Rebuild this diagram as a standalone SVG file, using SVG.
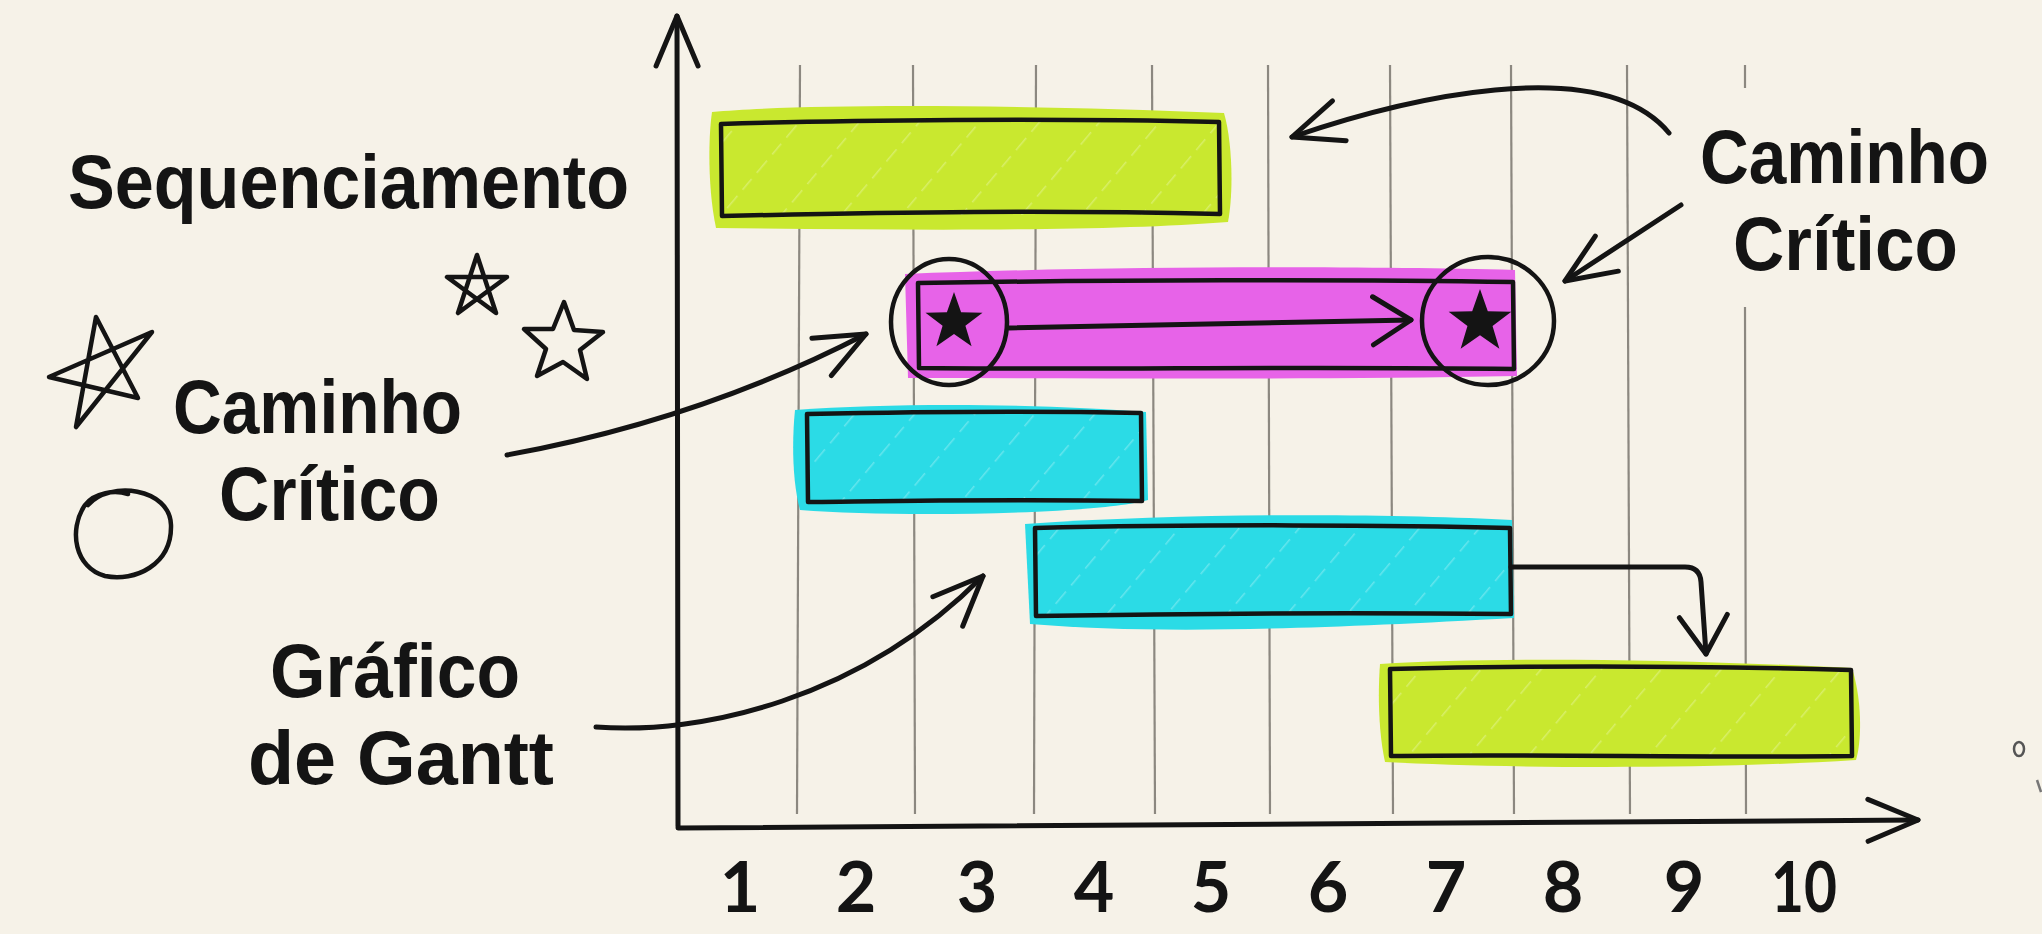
<svg xmlns="http://www.w3.org/2000/svg" width="2042" height="934" viewBox="0 0 2042 934">
<defs>
<style>
.lbl{font-family:"Liberation Sans","Arial","DejaVu Sans",sans-serif;font-weight:700;fill:#141414;font-size:76px}
.num{font-family:"Lato","Noto Sans","DejaVu Sans",sans-serif;font-weight:700;fill:#141414;font-size:70px;text-anchor:middle}
.grid{stroke:#8c8880;stroke-width:2.2;fill:none}
.ink{stroke:#141414;stroke-width:5;fill:none;stroke-linecap:round;stroke-linejoin:round}
.box{stroke:#141414;stroke-width:4.5;fill:none;stroke-linejoin:round}
.lime{fill:#c9e82f}
.mag{fill:#e763e8}
.cyan{fill:#2bdbe6}
.streak{fill:url(#streak)}
.deco{stroke:#141414;stroke-width:4.5;fill:none;stroke-linecap:round;stroke-linejoin:round}
</style>
<pattern id="streak" width="46" height="46" patternUnits="userSpaceOnUse" patternTransform="rotate(40)">
<line x1="0" y1="0" x2="0" y2="46" stroke="#ffffff" stroke-opacity="0.28" stroke-width="3" stroke-dasharray="14 8"/>
</pattern>
<marker id="ah" viewBox="-56 -30 64 60" markerWidth="64" markerHeight="60" refX="0" refY="0" orient="auto" markerUnits="userSpaceOnUse">
<path d="M-50,-21 L0,0 L-50,21" fill="none" stroke="#141414" stroke-width="5" stroke-linecap="round" stroke-linejoin="round"/>
</marker>
<marker id="ahs" viewBox="-46 -30 52 60" markerWidth="52" markerHeight="60" refX="0" refY="0" orient="auto" markerUnits="userSpaceOnUse">
<path d="M-38,-24 L0,0 L-38,24" fill="none" stroke="#141414" stroke-width="5" stroke-linecap="round" stroke-linejoin="round"/>
</marker>
<path id="starSolid" d="M0,-30 L7.1,-9.7 L28.5,-9.3 L11.4,3.7 L17.6,24.3 L0,12 L-17.6,24.3 L-11.4,3.7 L-28.5,-9.3 L-7.1,-9.7 Z" fill="#141414"/>
</defs>

<rect x="0" y="0" width="2042" height="934" fill="#f6f2e8"/>

<g id="grid">
<path class="grid" d="M800,65 L797,814"/>
<path class="grid" d="M913,65 L915,814"/>
<path class="grid" d="M1036,65 L1034,814"/>
<path class="grid" d="M1152,65 L1155,814"/>
<path class="grid" d="M1268,65 L1270,814"/>
<path class="grid" d="M1390,65 L1393,814"/>
<path class="grid" d="M1511,65 L1514,814"/>
<path class="grid" d="M1627,65 L1630,814"/>
<path class="grid" d="M1745,65 L1745,88 M1745,307 L1746,814"/>
</g>

<g id="axes">
<path class="ink" d="M678,826 L677,16" marker-end="url(#ah)"/>
<path class="ink" d="M678,828 L1918,820" marker-end="url(#ah)"/>
</g>

<g id="axis-labels">
<text class="num" x="740" y="912">1</text>
<text class="num" x="856" y="912">2</text>
<text class="num" x="977" y="912">3</text>
<text class="num" x="1094" y="912">4</text>
<text class="num" x="1211" y="912">5</text>
<text class="num" x="1328" y="912">6</text>
<text class="num" x="1446" y="912">7</text>
<text class="num" x="1563" y="912">8</text>
<text class="num" x="1684" y="912">9</text>
<text class="num" x="1804" y="912" textLength="66" lengthAdjust="spacingAndGlyphs">10</text>
</g>

<g id="bar-1">
<path class="lime" d="M712,112 C800,104 1000,104 1224,113 C1232,140 1234,190 1228,222 C1100,232 900,230 716,228 C708,190 708,140 712,112 Z"/>
<rect class="streak" x="721" y="122" width="498" height="93"/>
<path class="box" d="M721,124 C850,120 1050,118 1219,122 L1220,214 C1050,210 900,212 722,216 Z"/>
</g>

<g id="bar-2">
<path class="mag" d="M905,274 C1100,266 1350,266 1515,270 L1517,376 C1300,380 1100,378 908,378 Z"/>
<path class="box" d="M918,283 C1100,280 1350,279 1513,282 L1514,369 C1300,366 1100,370 919,368 Z"/>
</g>

<g id="critical-start">
<ellipse class="deco" cx="949" cy="322" rx="58" ry="63"/>
<use href="#starSolid" x="954" y="322"/>
</g>

<g id="critical-end">
<ellipse class="deco" cx="1488" cy="321" rx="66" ry="64"/>
<use href="#starSolid" transform="translate(1480,322) scale(1.1)"/>
</g>

<g id="bar-3">
<path class="cyan" d="M795,410 C900,402 1050,404 1146,412 L1148,500 C1100,514 900,518 800,510 C792,480 792,440 795,410 Z"/>
<rect class="streak" x="807" y="414" width="334" height="87"/>
<path class="box" d="M807,414 C950,411 1050,411 1141,413 L1142,501 C1000,499 900,501 808,502 Z"/>
</g>

<g id="bar-4">
<path class="cyan" d="M1025,524 C1200,512 1400,514 1512,520 L1514,618 C1300,630 1150,634 1030,624 Z"/>
<rect class="streak" x="1035" y="528" width="475" height="87"/>
<path class="box" d="M1035,528 C1200,524 1400,525 1510,528 L1511,614 C1300,612 1150,614 1036,616 Z"/>
</g>

<g id="bar-5">
<path class="lime" d="M1380,664 C1500,656 1700,660 1852,668 C1862,700 1862,740 1856,760 C1700,770 1500,768 1385,762 C1378,730 1378,690 1380,664 Z"/>
<rect class="streak" x="1390" y="668" width="461" height="88"/>
<path class="box" d="M1390,669 C1550,665 1700,666 1851,670 L1852,756 C1700,758 1550,754 1391,756 Z"/>
</g>

<g id="label-sequenciamento">
<text class="lbl" x="68" y="208" font-size="80" textLength="561" lengthAdjust="spacingAndGlyphs">Sequenciamento</text>
</g>

<g id="label-caminho-left">
<text class="lbl" x="173" y="433" textLength="289" lengthAdjust="spacingAndGlyphs">Caminho</text>
<text class="lbl" x="219" y="520" textLength="221" lengthAdjust="spacingAndGlyphs">Crítico</text>
</g>

<g id="label-caminho-right">
<text class="lbl" x="1700" y="183" textLength="289" lengthAdjust="spacingAndGlyphs">Caminho</text>
<text class="lbl" x="1733" y="270" textLength="225" lengthAdjust="spacingAndGlyphs">Crítico</text>
</g>

<g id="label-gantt">
<text class="lbl" x="270" y="697" textLength="250" lengthAdjust="spacingAndGlyphs">Gráfico</text>
<text class="lbl" x="248" y="784" textLength="306" lengthAdjust="spacingAndGlyphs">de Gantt</text>
</g>

<g id="decorations">
<path class="deco" d="M96,317 L138,398 L49,377 L152,332 L76,427 Z"/>
<path class="deco" stroke-width="3.5" d="M477,255 L496,313 L447,277 L507,277 L458,313 Z"/>
<path class="deco" stroke-width="3.5" d="M564,302 L574,330 L603,332 L580,350 L587,379 L563,362 L537,376 L546,349 L524,329 L553,329 Z"/>
<path class="deco" d="M88,505 C110,480 170,488 171,525 C172,565 135,582 105,576 C75,568 68,530 85,505 C95,492 115,490 128,494"/>
<ellipse cx="2019" cy="749" rx="5" ry="7" fill="none" stroke="#555" stroke-width="2.5"/>
<path d="M2037,780 L2041,792" stroke="#777" stroke-width="2.5" fill="none"/>
</g>

<g id="connectors">
<path class="ink" d="M1009,328 L1411,320" marker-end="url(#ahs)"/>
<path class="ink" d="M1669,133 C1600,50 1400,100 1292,137" marker-end="url(#ah)"/>
<path class="ink" d="M1681,205 L1565,281" marker-end="url(#ah)"/>
<path class="ink" d="M507,455 Q700,420 866,334" marker-end="url(#ah)"/>
<path class="ink" d="M596,727 C700,735 860,700 983,576" marker-end="url(#ah)"/>
<path class="ink" d="M1511,567 L1685,567 Q1700,567 1701,582 L1706,654" marker-end="url(#ahs)"/>
</g>
</svg>
